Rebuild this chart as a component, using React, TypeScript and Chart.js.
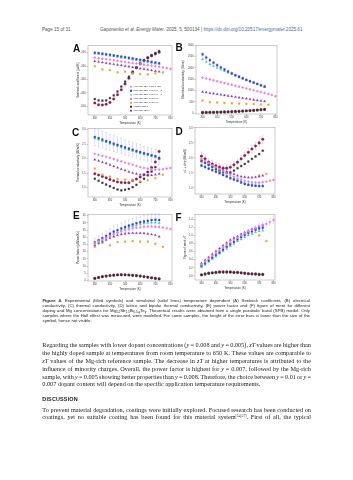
import React, { useEffect, useLayoutEffect, useRef } from 'react';
import { Chart, registerables } from 'chart.js';
Chart.register(...registerables);

const FONT = '"Liberation Sans", Arial, sans-serif';
const SERIF = '"Liberation Serif", "Times New Roman", serif';

// ---------- x values (temperature, K) ----------
const tempsMain = [300, 325, 350, 375, 400, 425, 450, 475, 500, 525, 550, 575, 600, 625, 650, 675, 700, 725];
const tempsLong = [300, 325, 350, 375, 400, 425, 450, 475, 500, 525, 550, 575, 600, 625, 650, 675, 700, 725, 750, 775, 800];
const tempsCoarse = [300, 350, 400, 450, 500, 550, 600, 650, 700, 750];
const tempsTail = [700, 750];
const xTickValues = [300, 400, 500, 600, 700, 800];

// ---------- series ----------
const seriesLabels = [
  'Mg₃.₂Sb₁.₅Bi₀.₄₉Te₀.₀₁ [37]',
  'Mg₃.₂Sb₁.₅Bi₀.₄₉₃Te₀.₀₀₇ - 1',
  'Mg₃.₂Sb₁.₅Bi₀.₄₉₃Te₀.₀₀₇ - 2',
  'Mg₃.₂Sb₁.₅Bi₀.₄₉₅Te₀.₀₀₅',
  'Mg₃.₂Sb₁.₅Bi₀.₄₉₂Te₀.₀₀₈',
  'Mg₃Sb₁.₅Bi₀.₅',
  'Mg₃.₂Sb₁.₅Bi₀.₅',
];
const seriesColors = ['#e57ee0', '#3340c8', '#32c6b6', '#8a2dbd', '#f3a034', '#333333', '#8c1f56'];
const errorColors = ['rgba(229,126,224,0.45)', 'rgba(120,130,230,0.5)', 'rgba(50,198,182,0.45)', 'rgba(138,45,189,0.4)', 'rgba(243,160,52,0.45)', 'rgba(80,80,80,0.4)', 'rgba(200,120,170,0.5)'];
const seriesMarkers = ['rectRot', 'rect', 'triangle', 'triangle', 'rect', 'rect', 'circle'];

// ---------- (A) Seebeck coefficient ----------
const seebeckPink = [-137, -141, -145, -149, -153, -157, -161, -165, -169, -173, -177, -181, -185, -189, -193, -197, -201, -205, -210, -215, -221];
const seebeckBlue = [-100, -103, -107, -111, -115, -120, -124, -129, -133, -138, -143, -148, -153, -158, -163, -168, -173, -178];
const seebeckTeal = [-106, -110, -114, -119, -123, -127, -132, -137, -141, -146, -151, -156, -161, -166, -171, -176, -181, -186];
const seebeckPurple = [-164, -168, -173, -177, -182, -186, -191, -195, -200, -204, -209, -213, -218, -222, -227, -232, -237, -242];
const seebeckOrange = [-201, -225, -230, -247, -242, -255, -260, -262, -255, -247];
const seebeckBlack = [-446, -456, -458, -456, -439, -419, -390, -353, -316, -279, -242, -210, -181, -156, -137, -118, -102, -88];
const seebeckMaroon = [-475, -488, -490, -485, -471, -446, -414, -377, -333, -291, -250, -213, -183, -159, -139, -124, -110, -97];
const seebeckTicks = [-500, -400, -300, -200, -100];

// ---------- (B) Electrical conductivity ----------
const condPink = [1570, 1530, 1490, 1450, 1410, 1370, 1330, 1290, 1250, 1210, 1170, 1130, 1090, 1050, 1010, 970, 930, 890, 850, 800, 750];
const condBlue = [2600, 2460, 2340, 2230, 2120, 2020, 1930, 1840, 1760, 1680, 1610, 1540, 1470, 1410, 1350, 1290, 1230, 1170];
const condBlueErr = [90, 85, 80, 75, 70, 65, 60, 60, 55, 55, 50, 50, 50, 45, 45, 45, 40, 40];
const condTeal = [2380, 2270, 2160, 2080, 2000, 1930, 1860, 1790, 1720, 1650, 1590, 1530, 1470, 1410, 1350, 1290, 1230, 1180];
const condPurple = [940, 915, 890, 865, 840, 815, 790, 765, 740, 715, 690, 665, 640, 615, 590, 565, 545, 520];
const condOrange = [555, 480, 470, 450, 440, 420, 410, 400, 385, 370];
const condBlack = [20, 25, 28, 30, 33, 37, 42, 48, 55, 62, 70, 80, 90, 100, 110, 125, 140, 155];
const condMaroon = [30, 33, 36, 40, 44, 48, 54, 60, 67, 75, 84, 94, 105, 116, 128, 140, 152, 165];
const condTicks = [0, 500, 1000, 1500, 2000, 2500, 3000];

// ---------- (C) Thermal conductivity ----------
const kappaPink = [2.17, 2.13, 2.10, 2.07, 2.03, 1.99, 1.95, 1.91, 1.86, 1.83, 1.79, 1.75, 1.71, 1.68, 1.66, 1.64, 1.62, 1.63, 1.64, 1.66, 1.68];
const kappaBlue = [2.75, 2.71, 2.66, 2.61, 2.57, 2.52, 2.48, 2.44, 2.39, 2.35, 2.31, 2.27, 2.23, 2.19, 2.16, 2.12, 2.09, 2.03];
const kappaBlueErr = [0.30, 0.30, 0.29, 0.29, 0.28, 0.28, 0.27, 0.27, 0.26, 0.26, 0.25, 0.25, 0.25, 0.24, 0.24, 0.24, 0.23, 0.23];
const kappaTeal = [2.70, 2.66, 2.61, 2.57, 2.52, 2.48, 2.44, 2.39, 2.35, 2.31, 2.27, 2.23, 2.19, 2.15, 2.12, 2.08, 2.05, 2.00];
const kappaPurple = [1.97, 1.93, 1.88, 1.84, 1.79, 1.74, 1.69, 1.64, 1.60, 1.55, 1.51, 1.48, 1.45, 1.44, 1.43, 1.43, 1.45, 1.48];
const kappaOrange = [1.66, 1.45, 1.38, 1.30, 1.28, 1.27, 1.22, 1.26, 1.33, 1.45];
const kappaBlack = [1.31, 1.24, 1.17, 1.11, 1.05, 0.99, 0.94, 0.91, 0.93, 0.96, 1.02, 1.10, 1.20, 1.31, 1.43, 1.56, 1.71, 2.00];
const kappaMaroon = [1.48, 1.44, 1.39, 1.34, 1.28, 1.24, 1.20, 1.18, 1.17, 1.17, 1.25, 1.30, 1.37, 1.45, 1.54, 1.70, 1.89, 2.25];
const kappaTicks = [1.0, 1.5, 2.0, 2.5, 3.0];

// ---------- (D) Lattice + bipolar thermal conductivity ----------
const bipPink = [1.97, 1.90, 1.83, 1.76, 1.69, 1.62, 1.56, 1.49, 1.43, 1.37, 1.32, 1.28, 1.24, 1.21, 1.19, 1.18, 1.18, 1.19, 1.21, 1.24, 1.27];
const bipBlue = [1.74, 1.69, 1.64, 1.59, 1.54, 1.49, 1.43, 1.38, 1.32, 1.28, 1.24, 1.18, 1.13, 1.10, 1.08, 1.07, 1.06, 1.06];
const bipTeal = [1.78, 1.73, 1.67, 1.62, 1.57, 1.52, 1.46, 1.41, 1.36, 1.31, 1.27, 1.22, 1.17, 1.14, 1.12, 1.10, 1.09, 1.09];
const bipPurple = [1.88, 1.84, 1.79, 1.74, 1.69, 1.64, 1.59, 1.55, 1.50, 1.46, 1.41, 1.38, 1.36, 1.35, 1.35, 1.36, 1.38, 1.41];
const bipOrange = [1.42, 1.47];
const bipBlack = [1.91, 1.84, 1.77, 1.70, 1.63, 1.57, 1.52, 1.50, 1.52, 1.58, 1.66, 1.73, 1.80, 1.88, 1.97, 2.05, 2.13, 2.24];
const bipMaroon = [2.06, 1.97, 1.86, 1.80, 1.74, 1.70, 1.66, 1.66, 1.69, 1.77, 1.86, 1.97, 2.08, 2.19, 2.30, 2.40, 2.50, 2.62];
const bipMaroonErr = [0.14, 0.13, 0.12, 0.12, 0.11, 0.11, 0.10, 0.10, 0.10, 0.10, 0.10, 0.11, 0.11, 0.12, 0.12, 0.13, 0.14, 0.15];
const bipTicks = [1.0, 1.5, 2.0, 2.5, 3.0];

// ---------- (E) Power factor ----------
const pfPink = [26, 27.2, 28.5, 29.8, 31, 32, 33, 34, 35, 35.7, 36.3, 36.7, 37, 37.3, 37.5, 37.5, 37.3, 37.1, 36.8, 36.3, 35.8];
const pfBlue = [26.5, 28, 29.5, 31, 32.5, 34, 35, 36.2, 37.2, 38.2, 39, 39.8, 40.5, 41, 41.5, 42, 42.2, 42];
const pfBlueErr = [3.0, 3.2, 3.4, 3.5, 3.6, 3.7, 3.8, 3.9, 4.0, 4.0, 4.1, 4.1, 4.2, 4.2, 4.2, 4.3, 4.3, 4.3];
const pfTeal = [25, 26.5, 28, 29.5, 31, 32.5, 33.7, 35, 36, 37, 37.8, 38.5, 39.2, 39.7, 40, 40.2, 40.3, 40];
const pfPurple = [24.5, 25.8, 27, 28.3, 29.5, 30.5, 31.5, 32, 32.5, 32.8, 33, 33, 33, 32.8, 32.5, 32, 31.5, 30.5];
const pfOrange = [23.4, 26.2, 24.5, 26.7, 27, 27.4, 27, 27, 25.5, 23.4];
const pfBlack = [1.4, 2.0, 2.6, 3.0, 3.4, 3.6, 3.8, 3.9, 3.9, 3.8, 3.6, 3.3, 3.0, 2.6, 2.2, 1.8, 1.4, 1.1];
const pfMaroon = [1.6, 2.2, 2.8, 3.2, 3.5, 3.8, 4.0, 4.1, 4.0, 3.9, 3.7, 3.5, 3.2, 2.8, 2.4, 2.0, 1.6, 1.3];
const pfTicks = [0, 5, 10, 15, 20, 25, 30, 35, 40, 45];

// ---------- (F) Figure of merit ----------
const ztPink = [0.29, 0.36, 0.43, 0.50, 0.56, 0.63, 0.70, 0.77, 0.83, 0.89, 0.94, 1.00, 1.05, 1.10, 1.14, 1.18, 1.23, 1.26, 1.28, 1.33, 1.38];
const ztPinkErr = [0.02, 0.02, 0.03, 0.03, 0.03, 0.04, 0.04, 0.04, 0.05, 0.05, 0.05, 0.06, 0.06, 0.06, 0.07, 0.07, 0.07, 0.08, 0.08, 0.08, 0.09];
const ztBlue = [0.25, 0.31, 0.38, 0.45, 0.52, 0.58, 0.65, 0.72, 0.78, 0.84, 0.90, 0.96, 1.01, 1.06, 1.10, 1.14, 1.17, 1.19];
const ztBlueErr = [0.02, 0.02, 0.03, 0.03, 0.03, 0.04, 0.04, 0.04, 0.05, 0.05, 0.05, 0.06, 0.06, 0.06, 0.07, 0.07, 0.07, 0.08];
const ztTeal = [0.22, 0.28, 0.35, 0.42, 0.48, 0.55, 0.61, 0.67, 0.73, 0.79, 0.85, 0.90, 0.95, 1.00, 1.04, 1.08, 1.10, 1.12];
const ztPurple = [0.31, 0.39, 0.46, 0.54, 0.61, 0.68, 0.75, 0.82, 0.89, 0.94, 0.98, 1.03, 1.07, 1.11, 1.15, 1.18, 1.21, 1.25];
const ztOrange = [1.0, 0.86];
const ztBlack = [0.02, 0.04, 0.06, 0.07, 0.08, 0.09, 0.09, 0.09, 0.09, 0.08, 0.08, 0.07, 0.06, 0.05, 0.05, 0.04, 0.03, 0.03];
const ztMaroon = [0.03, 0.05, 0.07, 0.08, 0.09, 0.10, 0.10, 0.10, 0.10, 0.09, 0.09, 0.08, 0.07, 0.06, 0.05, 0.05, 0.04, 0.04];
const ztTicks = [0, 0.2, 0.4, 0.6, 0.8, 1.0, 1.2, 1.4];

type Series = { t: number[]; v: number[]; e?: number[] };
type PanelDef = {
  letter: string; letterPos: [number, number];
  box: { l: number; t: number; w: number; h: number }; yw: number;
  yMin: number; yMax: number; yTicks: number[]; digits: number; yTitle: string;
  legend?: boolean; series: Series[];
};

const panels: PanelDef[] = [
  {
    letter: 'A', letterPos: [73, 48.5], box: { l: 88, t: 45, w: 84, h: 70 }, yw: 12,
    yMin: -565, yMax: -45, yTicks: seebeckTicks, digits: 0, yTitle: 'Seebeck coefficient (µV/K)', legend: true,
    series: [
      { t: tempsLong, v: seebeckPink }, { t: tempsMain, v: seebeckBlue }, { t: tempsMain, v: seebeckTeal },
      { t: tempsMain, v: seebeckPurple }, { t: tempsCoarse, v: seebeckOrange }, { t: tempsMain, v: seebeckBlack },
      { t: tempsMain, v: seebeckMaroon },
    ],
  },
  {
    letter: 'B', letterPos: [175.5, 47.5], box: { l: 196, t: 45, w: 81, h: 69 }, yw: 15,
    yMin: -40, yMax: 3000, yTicks: condTicks, digits: 0, yTitle: 'Electrical conductivity (S/cm)',
    series: [
      { t: tempsLong, v: condPink }, { t: tempsMain, v: condBlue, e: condBlueErr }, { t: tempsMain, v: condTeal },
      { t: tempsMain, v: condPurple }, { t: tempsCoarse, v: condOrange }, { t: tempsMain, v: condBlack },
      { t: tempsMain, v: condMaroon },
    ],
  },
  {
    letter: 'C', letterPos: [72, 133], box: { l: 88, t: 128, w: 84, h: 69 }, yw: 12,
    yMin: 0.68, yMax: 3.05, yTicks: kappaTicks, digits: 1, yTitle: 'Thermal conductivity (W/m/K)',
    series: [
      { t: tempsLong, v: kappaPink }, { t: tempsMain, v: kappaBlue, e: kappaBlueErr }, { t: tempsMain, v: kappaTeal },
      { t: tempsMain, v: kappaPurple }, { t: tempsCoarse, v: kappaOrange }, { t: tempsMain, v: kappaBlack },
      { t: tempsMain, v: kappaMaroon },
    ],
  },
  {
    letter: 'D', letterPos: [175.5, 132], box: { l: 195, t: 127, w: 80, h: 67 }, yw: 12,
    yMin: 0.8, yMax: 3.02, yTicks: bipTicks, digits: 1, yTitle: 'κL + κbip (W/m/K)',
    series: [
      { t: tempsLong, v: bipPink }, { t: tempsMain, v: bipBlue }, { t: tempsMain, v: bipTeal },
      { t: tempsMain, v: bipPurple }, { t: tempsTail, v: bipOrange }, { t: tempsMain, v: bipBlack },
      { t: tempsMain, v: bipMaroon, e: bipMaroonErr },
    ],
  },
  {
    letter: 'E', letterPos: [73, 216], box: { l: 88, t: 214, w: 84, h: 67 }, yw: 12,
    yMin: -0.3, yMax: 46, yTicks: pfTicks, digits: 0, yTitle: 'Power factor (µW/cm/K²)',
    series: [
      { t: tempsLong, v: pfPink }, { t: tempsMain, v: pfBlue, e: pfBlueErr }, { t: tempsMain, v: pfTeal },
      { t: tempsMain, v: pfPurple }, { t: tempsCoarse, v: pfOrange }, { t: tempsMain, v: pfBlack },
      { t: tempsMain, v: pfMaroon },
    ],
  },
  {
    letter: 'F', letterPos: [175.5, 218], box: { l: 195, t: 214, w: 80, h: 66 }, yw: 12,
    yMin: -0.1, yMax: 1.52, yTicks: ztTicks, digits: 1, yTitle: 'Figure of merit zT',
    series: [
      { t: tempsLong, v: ztPink, e: ztPinkErr }, { t: tempsMain, v: ztBlue, e: ztBlueErr }, { t: tempsMain, v: ztTeal },
      { t: tempsMain, v: ztPurple }, { t: tempsTail, v: ztOrange }, { t: tempsMain, v: ztBlack },
      { t: tempsMain, v: ztMaroon },
    ],
  },
];

function drawMarker(ctx: CanvasRenderingContext2D, style: string, x: number, y: number, r: number, color: string) {
  ctx.fillStyle = color;
  ctx.beginPath();
  if (style === 'circle') {
    ctx.arc(x, y, r, 0, Math.PI * 2);
  } else if (style === 'rectRot') {
    ctx.moveTo(x, y - r * 1.3); ctx.lineTo(x + r * 1.3, y); ctx.lineTo(x, y + r * 1.3); ctx.lineTo(x - r * 1.3, y); ctx.closePath();
  } else if (style === 'triangle') {
    ctx.moveTo(x, y - r * 1.2); ctx.lineTo(x + r * 1.1, y + r * 0.8); ctx.lineTo(x - r * 1.1, y + r * 0.8); ctx.closePath();
  } else {
    ctx.rect(x - r, y - r, r * 2, r * 2);
  }
  ctx.fill();
}

const framePlugin = {
  id: 'frame',
  beforeDatasetsDraw(chart: any) {
    const { ctx, chartArea: a } = chart;
    ctx.save();
    ctx.strokeStyle = '#a8a8a8';
    ctx.lineWidth = 0.6;
    ctx.strokeRect(a.left, a.top, a.right - a.left, a.bottom - a.top);
    ctx.restore();
  },
};

const errorBarPlugin = {
  id: 'errorBars',
  beforeDatasetsDraw(chart: any) {
    const { ctx } = chart;
    const ys = chart.scales.y;
    chart.data.datasets.forEach((ds: any, i: number) => {
      if (!ds.errors) return;
      const meta = chart.getDatasetMeta(i);
      ctx.save();
      ctx.strokeStyle = ds.errorColor;
      ctx.lineWidth = 0.5;
      meta.data.forEach((pt: any, j: number) => {
        const e = ds.errors[j];
        if (!e) return;
        const v = ds.data[j].y;
        const y1 = ys.getPixelForValue(v - e);
        const y2 = ys.getPixelForValue(v + e);
        ctx.beginPath();
        ctx.moveTo(pt.x, y1); ctx.lineTo(pt.x, y2);
        ctx.moveTo(pt.x - 0.8, y1); ctx.lineTo(pt.x + 0.8, y1);
        ctx.moveTo(pt.x - 0.8, y2); ctx.lineTo(pt.x + 0.8, y2);
        ctx.stroke();
      });
      ctx.restore();
    });
  },
};

const legendPlugin = {
  id: 'miniLegend',
  afterDatasetsDraw(chart: any, _args: any, opts: any) {
    if (!opts || !opts.show) return;
    const { ctx, chartArea: a } = chart;
    ctx.save();
    ctx.font = `2.4px ${FONT}`;
    ctx.textBaseline = 'middle';
    seriesLabels.forEach((lab, i) => {
      const x = a.left + 43;
      const y = a.top + 41.5 + i * 4;
      drawMarker(ctx, seriesMarkers[i], x, y, 1.0, seriesColors[i]);
      ctx.fillStyle = '#333';
      ctx.fillText(lab, x + 2.5, y);
    });
    ctx.restore();
  },
};

function Panel({ p }: { p: PanelDef }) {
  const ref = useRef<HTMLCanvasElement>(null);
  const padTop = 4;
  const xh = 10;
  const W = p.yw + p.box.w + 5;
  const H = padTop + p.box.h + xh;
  useEffect(() => {
    const datasets = p.series.map((s, i) => ({
      label: seriesLabels[i],
      data: s.t.map((x, j) => ({ x, y: s.v[j] })),
      errors: s.e,
      errorColor: errorColors[i],
      backgroundColor: seriesColors[i],
      borderColor: seriesColors[i],
      pointStyle: seriesMarkers[i],
      pointRadius: 1.3,
      borderWidth: 0.3,
      showLine: false,
      clip: false as any,
    }));
    const chart = new Chart(ref.current as HTMLCanvasElement, {
      type: 'scatter',
      data: { datasets } as any,
      options: {
        animation: false,
        responsive: false,
        devicePixelRatio: 1,
        layout: { padding: { left: 0, right: 5, top: padTop, bottom: 0 } },
        plugins: {
          legend: { display: false },
          tooltip: { enabled: false },
          miniLegend: { show: !!p.legend },
        } as any,
        scales: {
          x: {
            type: 'linear', min: 255, max: 810,
            afterBuildTicks: (axis: any) => { axis.ticks = xTickValues.map((v) => ({ value: v })); },
            afterFit: (s: any) => { s.height = xh; },
            ticks: { font: { size: 2.6, family: FONT }, color: '#444', padding: 0.5, maxRotation: 0, autoSkip: false },
            grid: { display: true, drawOnChartArea: false, tickLength: 1.5, color: '#888', lineWidth: 0.5 },
            border: { display: false },
            title: { display: true, text: 'Temperature (K)', font: { size: 3, family: FONT }, color: '#333', padding: { top: 0, bottom: 0.5 } },
          },
          y: {
            type: 'linear', min: p.yMin, max: p.yMax,
            afterBuildTicks: (axis: any) => { axis.ticks = p.yTicks.map((v) => ({ value: v })); },
            afterFit: (s: any) => { s.width = p.yw; },
            ticks: { font: { size: 2.6, family: FONT }, color: '#444', padding: 0.8, autoSkip: false, callback: (v: any) => Number(v).toFixed(p.digits) },
            grid: { display: true, drawOnChartArea: false, tickLength: 1.5, color: '#888', lineWidth: 0.5 },
            border: { display: false },
            title: { display: true, text: p.yTitle, font: { size: 3, family: FONT }, color: '#333', padding: { top: 0.5, bottom: 0 } },
          },
        } as any,
      },
      plugins: [framePlugin, errorBarPlugin, legendPlugin],
    });
    return () => chart.destroy();
  }, []);
  return (
    <>
      <canvas ref={ref} width={W} height={H}
        style={{ position: 'absolute', left: p.box.l - p.yw, top: p.box.t - padTop, width: W, height: H }} />
      <div style={{ position: 'absolute', left: p.letterPos[0], top: p.letterPos[1] - 6, height: 12, lineHeight: '12px', fontFamily: FONT, fontWeight: 'bold', fontSize: 10, color: '#111' }}>{p.letter}</div>
    </>
  );
}

const subStyle: React.CSSProperties = { fontSize: '0.7em', verticalAlign: '-0.25em', lineHeight: 0 };

// A single typeset line; justified lines get word-spacing computed so the line fills its width exactly.
function Line({ top, left, width, size, lh, family, justify, children, color }: any) {
  const ref = useRef<HTMLSpanElement>(null);
  useLayoutEffect(() => {
    const el = ref.current;
    if (!el || !justify) return;
    el.style.wordSpacing = '0px';
    const natural = el.getBoundingClientRect().width;
    const spaces = ((el.textContent || '').match(/ /g) || []).length;
    if (spaces > 0) el.style.wordSpacing = `${(width - natural) / spaces}px`;
  });
  return (
    <div style={{
      position: 'absolute', left, top: top - lh / 2, width, fontSize: size, lineHeight: `${lh}px`, fontFamily: family,
      color: color || '#1d1d1d', whiteSpace: 'nowrap', height: lh, overflow: 'visible',
    }}><span ref={ref}>{children}</span></div>
  );
}

export default function App() {
  const capL = 42.5, capW = 267.5;
  const bodyL = 42.3, bodyW = 268.7;
  const cap = { size: 4.3, lh: 4.8, family: FONT, left: capL, width: capW, color: '#222' };
  const body = { size: 6.25, lh: 7.9, family: SERIF, left: bodyL, width: bodyW, color: '#1a1a1a' };
  return (
    <div style={{ position: 'absolute', left: 0, top: 0, width: 353, height: 480, overflow: 'hidden', background: '#fff' }}>
      <Line top={29} left={42} width={60} size={4.6} lh={5} family={FONT} color="#555">Page 15 of 31</Line>
      <Line top={29} left={100} width={210} size={4.6} lh={5} family={FONT} color="#555">
        Gaponenko <i>et al</i>. <i>Energy Mater</i>. 2025, 5, 500134 | <span style={{ color: '#3a6fb5' }}>https://dx.doi.org/10.20517/energymater.2025.61</span>
      </Line>

      {panels.map((p) => <Panel key={p.letter} p={p} />)}

      <Line top={301.7} {...cap} justify><b>Figure 4.</b> Experimental (filled symbols) and simulated (solid lines) temperature dependent (A) Seebeck coefficient, (B) electrical</Line>
      <Line top={306.6} {...cap} justify>conductivity, (C) thermal conductivity, (D) lattice and bipolar thermal conductivity, (E) power factor and (F) figure of merit for different</Line>
      <Line top={311.4} {...cap} justify>doping and Mg concentrations for Mg<sub style={subStyle}>3.2</sub>Sb<sub style={subStyle}>1.5</sub>Bi<sub style={subStyle}>0.5-y</sub>Te<sub style={subStyle}>y</sub>. Theoretical results were obtained from a single parabolic band (SPB) model. Only</Line>
      <Line top={316.2} {...cap} justify>samples where the Hall effect was measured, were modelled. For some samples, the height of the error bars is lower than the size of the</Line>
      <Line top={321} {...cap}>symbol, hence not visible.</Line>

      <Line top={344.7} {...body} justify>Regarding the samples with lower dopant concentrations (<i>y</i> = 0.008 and <i>y</i> = 0.005), <i>zT</i> values are higher than</Line>
      <Line top={352.7} {...body} justify>the highly doped sample at temperatures from room temperature to 650 K. These values are comparable to</Line>
      <Line top={360.8} {...body} justify><i>zT</i> values of the Mg-rich reference sample. The decrease in <i>zT</i> at higher temperatures is attributed to the</Line>
      <Line top={368.8} {...body} justify>influence of minority charges. Overall, the power factor is highest for <i>y</i> = 0.007, followed by the Mg-rich</Line>
      <Line top={376.7} {...body} justify>sample, with <i>y</i> = 0.005 showing better properties than <i>y</i> = 0.008. Therefore, the choice between <i>y</i> = 0.01 or <i>y</i> =</Line>
      <Line top={384.4} {...body}>0.007 dopant content will depend on the specific application temperature requirements.</Line>

      <Line top={399.3} left={42.3} width={100} size={5.4} lh={6.5} family={FONT} color="#222"><b style={{ letterSpacing: 0.2 }}>DISCUSSION</b></Line>

      <Line top={410} {...body} justify>To prevent material degradation, coatings were initially explored. Focused research has been conducted on</Line>
      <Line top={417.4} {...body} justify>coatings, yet no suitable coating has been found for this material system<sup style={{ fontSize: '0.6em', verticalAlign: '0.5em', lineHeight: 0 }}>[54,57]</sup>. First of all, the typical</Line>
    </div>
  );
}
